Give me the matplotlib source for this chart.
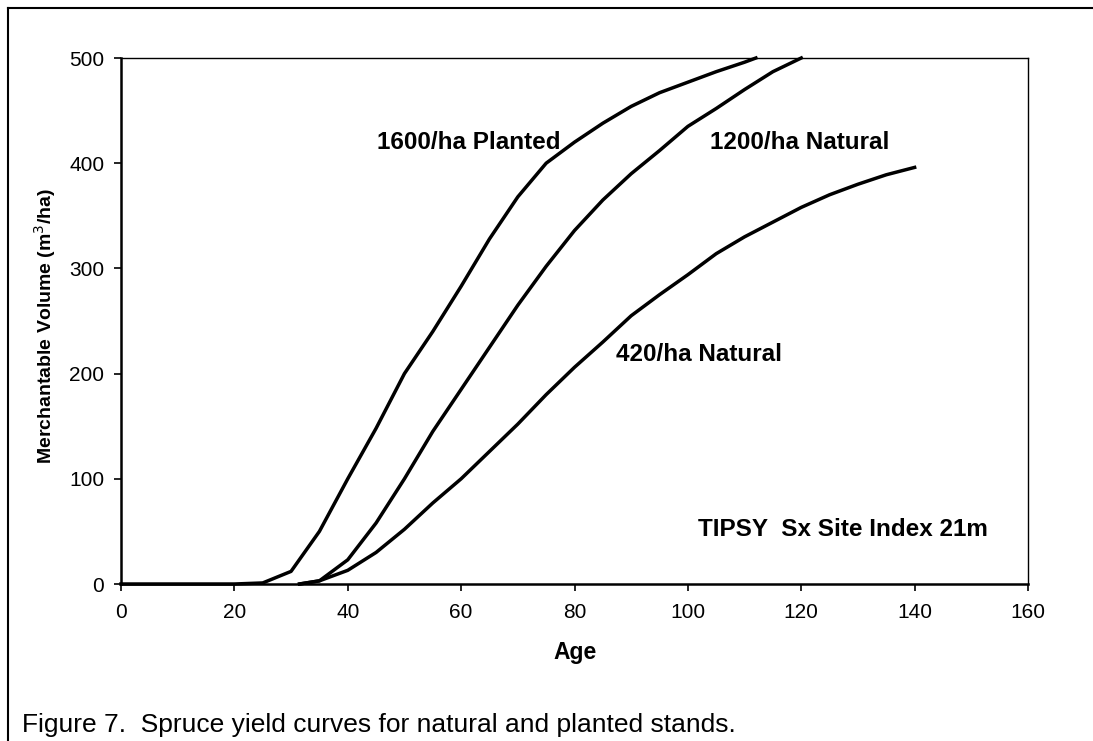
import numpy as np
import matplotlib
matplotlib.use("Agg")
import matplotlib.pyplot as plt
from matplotlib.lines import Line2D

plt.rcParams['font.family'] = ['Liberation Sans', 'DejaVu Sans']

# yield curves (age in years, volume m3/ha)
age_planted = [0, 5, 10, 15, 20, 25, 30, 35, 40, 45, 50, 55, 60, 65, 70, 75,
               80, 85, 90, 95, 100, 105, 110, 112]
vol_planted = [0, 0, 0, 0, 0, 1, 12, 50, 100, 148, 200, 240, 283, 328, 368, 400,
               420, 438, 454, 467, 477, 487, 496, 500]

age_1200 = [31.5, 35, 40, 45, 50, 55, 60, 65, 70, 75, 80, 85, 90, 95, 100,
            105, 110, 115, 120]
vol_1200 = [0, 3, 23, 58, 100, 145, 185, 225, 265, 302, 336, 365, 390, 412, 435,
            452, 470, 487, 500]

age_420 = [31.5, 35, 40, 45, 50, 55, 60, 65, 70, 75, 80, 85, 90, 95, 100,
           105, 110, 115, 120, 125, 130, 135, 140]
vol_420 = [0, 3, 13, 30, 52, 77, 100, 126, 152, 180, 206, 230, 255, 275, 294,
           314, 330, 344, 358, 370, 380, 389, 396]

x_ticks = [0, 20, 40, 60, 80, 100, 120, 140, 160]
y_ticks = [0, 100, 200, 300, 400, 500]

W, H = 1093, 741
fig = plt.figure(figsize=(W / 100, H / 100), dpi=100)
ax = fig.add_axes([121 / W, 1 - 584 / H, 907 / W, 526 / H])

for a, v in [(age_planted, vol_planted), (age_1200, vol_1200), (age_420, vol_420)]:
    ax.plot(a, v, color='black', lw=2.5, solid_joinstyle='round', clip_on=False)

ax.set_xlim(0, 160)
ax.set_ylim(0, 500)
ax.set_xticks(x_ticks)
ax.set_yticks(y_ticks)
ax.tick_params(direction='out', length=5, width=1.2, labelsize=15, pad=9)
ax.tick_params(axis='y', pad=7)

for side in ['left', 'bottom']:
    ax.spines[side].set_linewidth(1.8)
for side in ['top', 'right']:
    ax.spines[side].set_linewidth(1.0)

lab = dict(fontsize=17.5, fontweight='bold', va='center')
ax.text(61.4, 420, '1600/ha Planted', ha='center', **lab)
ax.text(119.8, 420, '1200/ha Natural', ha='center', **lab)
ax.text(102, 218, '420/ha Natural', ha='center', **lab)
ax.text(153, 52, 'TIPSY  Sx Site Index 21m', ha='right', **lab)

fig.text(575 / W, 1 - 652 / H, 'Age', fontsize=16.5, fontweight='bold', ha='center', va='center')
fig.text(45 / W, 1 - 326 / H, 'Merchantable Volume (m$^3$/ha)', fontsize=14,
         fontweight='bold', rotation=90, ha='center', va='center')
fig.text(22 / W, 1 - 725 / H, 'Figure 7.  Spruce yield curves for natural and planted stands.',
         fontsize=19, ha='left', va='center')

# outer frame (top and left edges only)
fig.add_artist(Line2D([8 / W, 1], [1 - 8 / H, 1 - 8 / H], transform=fig.transFigure,
                      color='black', lw=1.5))
fig.add_artist(Line2D([8 / W, 8 / W], [0, 1 - 8 / H], transform=fig.transFigure,
                      color='black', lw=1.5))

fig.savefig('out.png', dpi=100)
